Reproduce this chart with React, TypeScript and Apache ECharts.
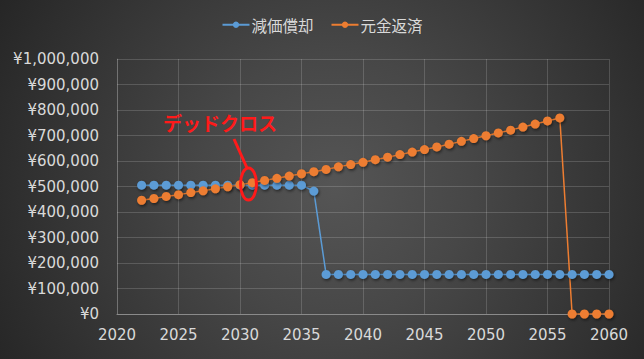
import React, { useEffect, useRef } from "react";
import * as echarts from "echarts";

const years = [2022, 2023, 2024, 2025, 2026, 2027, 2028, 2029, 2030, 2031, 2032, 2033, 2034, 2035, 2036, 2037, 2038, 2039, 2040, 2041, 2042, 2043, 2044, 2045, 2046, 2047, 2048, 2049, 2050, 2051, 2052, 2053, 2054, 2055, 2056, 2057, 2058, 2059, 2060];

const depreciation = [505000, 505000, 505000, 505000, 505000, 505000, 505000, 505000, 505000, 505000, 505000, 505000, 505000, 505000, 482000, 155000, 155000, 155000, 155000, 155000, 155000, 155000, 155000, 155000, 155000, 155000, 155000, 155000, 155000, 155000, 155000, 155000, 155000, 155000, 155000, 155000, 155000, 155000, 155000];

const principal = [446000, 453000, 461000, 468000, 476000, 483000, 491000, 499000, 507000, 515000, 524000, 532000, 541000, 550000, 558000, 567000, 577000, 586000, 595000, 605000, 615000, 625000, 635000, 645000, 655000, 666000, 677000, 688000, 699000, 710000, 721000, 733000, 745000, 757000, 769000, 0, 0, 0, 0];

const seriesNames = ["減価償却", "元金返済"];
const annotationText = "デッドクロス";

const fmtYen = (v: number) => "¥" + String(v).replace(/\B(?=(\d{3})+(?!\d))/g, ",");

export default function App() {
  const ref = useRef<HTMLDivElement>(null);
  useEffect(() => {
    document.body.style.margin = "0";
    const chart = echarts.init(ref.current!, null, { renderer: "svg" });
    const labelColor = "#d9d9d9";
    const gridColor = "rgba(255,255,255,0.16)";
    const mk = (name: string, color: string, vals: number[]) => ({
      name,
      type: "line",
      data: years.map((y, i) => [y, vals[i]]),
      symbol: "circle",
      symbolSize: 9,
      lineStyle: { color, width: 1.5 },
      itemStyle: {
        color,
        shadowBlur: 3,
        shadowColor: "rgba(0,0,0,0.55)",
        shadowOffsetX: 1,
        shadowOffsetY: 1.5,
      },
      emphasis: { disabled: true },
    });
    chart.setOption({
      animation: false,
      backgroundColor: "transparent",
      textStyle: { fontFamily: "DejaVu Sans" },
      legend: {
        top: 12,
        left: "center",
        itemWidth: 27,
        itemHeight: 8,
        itemGap: 17,
        textStyle: { color: labelColor, fontSize: 15.5, fontFamily: "Noto Sans CJK JP", padding: [0, 0, 0, -3] },
        data: seriesNames,
      },
      grid: { left: 117, right: 35, top: 59, bottom: 45, containLabel: false },
      xAxis: {
        type: "value",
        min: 2020,
        max: 2060,
        interval: 5,
        axisLine: { show: true, lineStyle: { color: "#8a8a8a", width: 1 } },
        axisTick: { show: false },
        axisLabel: { color: labelColor, fontSize: 15, margin: 13, formatter: (v: number) => String(v) },
        splitLine: { show: true, lineStyle: { color: gridColor, width: 1 } },
      },
      yAxis: {
        type: "value",
        min: 0,
        max: 1000000,
        interval: 100000,
        axisLine: { show: true, lineStyle: { color: gridColor, width: 1 } },
        axisTick: { show: false },
        axisLabel: { color: labelColor, fontSize: 15, margin: 18, formatter: (v: number) => fmtYen(v) },
        splitLine: { show: true, lineStyle: { color: gridColor, width: 1 } },
      },
      series: [mk(seriesNames[0], "#5b9bd5", depreciation), mk(seriesNames[1], "#ed7d31", principal)],
      graphic: [
        {
          type: "text",
          left: 163,
          top: 113,
          style: {
            text: annotationText,
            fill: "#ff1a1a",
            font: "bold 19px 'Noto Sans CJK JP'",
          },
          z: 100,
        },
        {
          type: "line",
          shape: { x1: 234, y1: 139, x2: 247, y2: 168 },
          style: { stroke: "#ff1a1a", lineWidth: 3 },
          z: 100,
        },
        {
          type: "ellipse",
          shape: { cx: 248.5, cy: 184, rx: 8, ry: 16 },
          style: { stroke: "#ff1a1a", lineWidth: 3, fill: "none" },
          z: 100,
        },
      ],
    });
    return () => chart.dispose();
  }, []);
  return (
    <div
      ref={ref}
      style={{
        width: 644,
        height: 359,
        background: "radial-gradient(circle at 52% 52%, #555555 0%, #474747 35%, #262626 100%)",
      }}
    />
  );
}
